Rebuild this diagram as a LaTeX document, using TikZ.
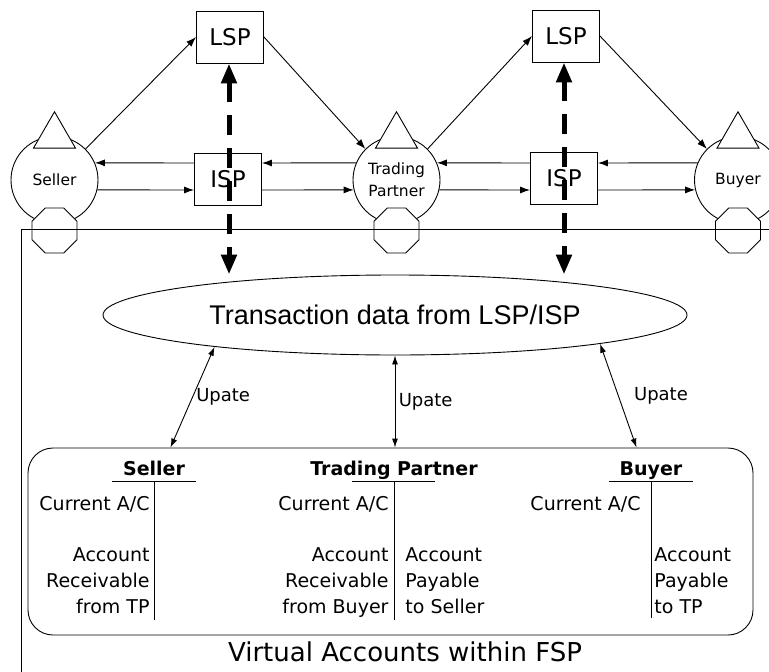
\documentclass[tikz,border=0pt]{standalone}
\usepackage{fontspec}
\setmainfont{DejaVu Sans}
\newfontfamily\arialfont{Liberation Sans}
\usetikzlibrary{shapes.geometric,arrows.meta,positioning}

\begin{document}
\begin{tikzpicture}[
    x=1pt, y=-1pt, line width=0.9pt,
    party/.style={circle, draw, minimum size=87pt, inner sep=0pt, align=center, font=\fontsize{15.5}{22}\selectfont},
    flag/.style={regular polygon, regular polygon sides=3, draw, fill=white, minimum size=48.5pt, inner sep=0pt},
    octa/.style={regular polygon, regular polygon sides=8, draw, fill=white, minimum size=48.7pt, inner sep=0pt},
    provider/.style={rectangle, draw, fill=white, minimum width=67pt, minimum height=52pt, inner sep=0pt, font=\fontsize{23}{28}\selectfont},
    arrow/.style={-{Latex[length=10pt,width=7pt]}},
    datalink/.style={{Triangle[length=20pt,width=15pt]}-{Triangle[length=20pt,width=15pt]}, line width=5pt, dash pattern=on 20pt off 13pt},
    update/.style={{Latex[length=9pt,width=6pt]}-{Latex[length=9pt,width=6pt]}},
    note/.style={font=\fontsize{18}{22}\selectfont},
    accthead/.style={inner sep=0pt, anchor=base, text depth=6pt, font=\bfseries\fontsize{19}{26}\selectfont},
    acct/.style={inner sep=0pt, font=\fontsize{19}{26}\selectfont}
]
\useasboundingbox (0,0) rectangle (769,672);

\node[party] (seller) at (54.5,180) {Seller};
\node[party] (tp) at (396.5,180) {Trading\\Partner};
\node[party] (buyer) at (738,180) {Buyer};

\node[flag] (sellertop) at (54.5,136) {};
\node[flag] (tptop) at (396.5,136) {};
\node[flag] (buyertop) at (738,136) {};

\node[octa] (sellerbot) at (54.5,230.5) {};
\node[octa] (tpbot) at (396.5,230.5) {};
\node[octa] (buyerbot) at (738,230.5) {};

\node[draw, anchor=north west, minimum width=800pt, minimum height=500pt, inner sep=0pt] (fsp) at (21,229) {};

\node[provider] (lsp1) at (230,37) {LSP};
\node[provider] (isp1) at (228,179) {ISP};
\node[provider] (lsp2) at (566,36) {LSP};
\node[provider] (isp2) at (564,178) {ISP};

\draw[arrow] (seller.45) -- (lsp1.west);
\draw[arrow] (lsp1.east) -- (tp.135);
\draw[arrow] (tp.45) -- (lsp2.west);
\draw[arrow] (lsp2.east) -- (buyer.135);

\draw[arrow] ([yshift=16pt]isp1.west) -- (seller.23);
\draw[arrow] (seller.-13) -- ([yshift=-11pt]isp1.west);
\draw[arrow] (tp.157) -- ([yshift=16pt]isp1.east);
\draw[arrow] ([yshift=-11pt]isp1.east) -- (tp.193);

\draw[arrow] ([yshift=15pt]isp2.west) -- (tp.23);
\draw[arrow] (tp.-13) -- ([yshift=-12pt]isp2.west);
\draw[arrow] (buyer.157) -- ([yshift=15pt]isp2.east);
\draw[arrow] ([yshift=-12pt]isp2.east) -- (buyer.193);

\node[ellipse, draw, minimum width=584pt, minimum height=80pt, inner sep=0pt, font=\arialfont\fontsize{27}{32}\selectfont] (tdata) at (395,315) {Transaction data from LSP/ISP};

\draw[datalink] ([xshift=-1pt]lsp1.south) -- ([xshift=-1pt]lsp1.south |- tdata.north);
\draw[datalink] ([xshift=-2pt]lsp2.south) -- ([xshift=-2pt]lsp2.south |- tdata.north);

\node[draw, rounded corners=25pt, minimum width=725pt, minimum height=187pt] (accounts) at (390.5,541.5) {};

\draw[update] (tdata.190) -- ([xshift=-220pt]accounts.north) node[note, midway, right] {Upate};
\draw[update] (tdata.south) -- (tdata.south |- accounts.north) node[note, midway, right] {Upate};
\draw[update] (tdata.-8.5) -- ([xshift=246pt]accounts.north) node[note, midway, right, xshift=12pt] {Upate};

\node[accthead] (sellerhd) at (154,475) {Seller};
\draw ([xshift=-42pt]sellerhd.south) -- ([xshift=42pt]sellerhd.south);
\draw (sellerhd.south) -- ++(0,139);
\node[acct, anchor=base east] (sellercur) at (150,510) {Current A/C};
\node[acct, anchor=north east, align=right] (sellerrec) at (150,547) {Account\\Receivable\\from TP};

\node[accthead] (tphd) at (394,475) {Trading Partner};
\draw ([xshift=-42pt]tphd.south) -- ([xshift=41pt]tphd.south);
\draw (tphd.south) -- ++(0,139);
\node[acct, anchor=base east] (tpcur) at (389,510) {Current A/C};
\node[acct, anchor=north east, align=right] (tprec) at (389,547) {Account\\Receivable\\from Buyer};
\node[acct, anchor=north west, align=left] (tppay) at (405,547) {Account\\Payable\\to Seller};

\node[accthead] (buyerhd) at (651,475) {Buyer};
\draw ([xshift=-42pt]buyerhd.south) -- ([xshift=42pt]buyerhd.south);
\draw (buyerhd.south) -- ++(0,137);
\node[acct, anchor=base east] (buyercur) at (641,510) {Current A/C};
\node[acct, anchor=north west, align=left] (buyerpay) at (654,547) {Account\\Payable\\to TP};

\node[font=\fontsize{26}{30}\selectfont] (fsplabel) at (405,652) {Virtual Accounts within FSP};

\end{tikzpicture}
\end{document}
